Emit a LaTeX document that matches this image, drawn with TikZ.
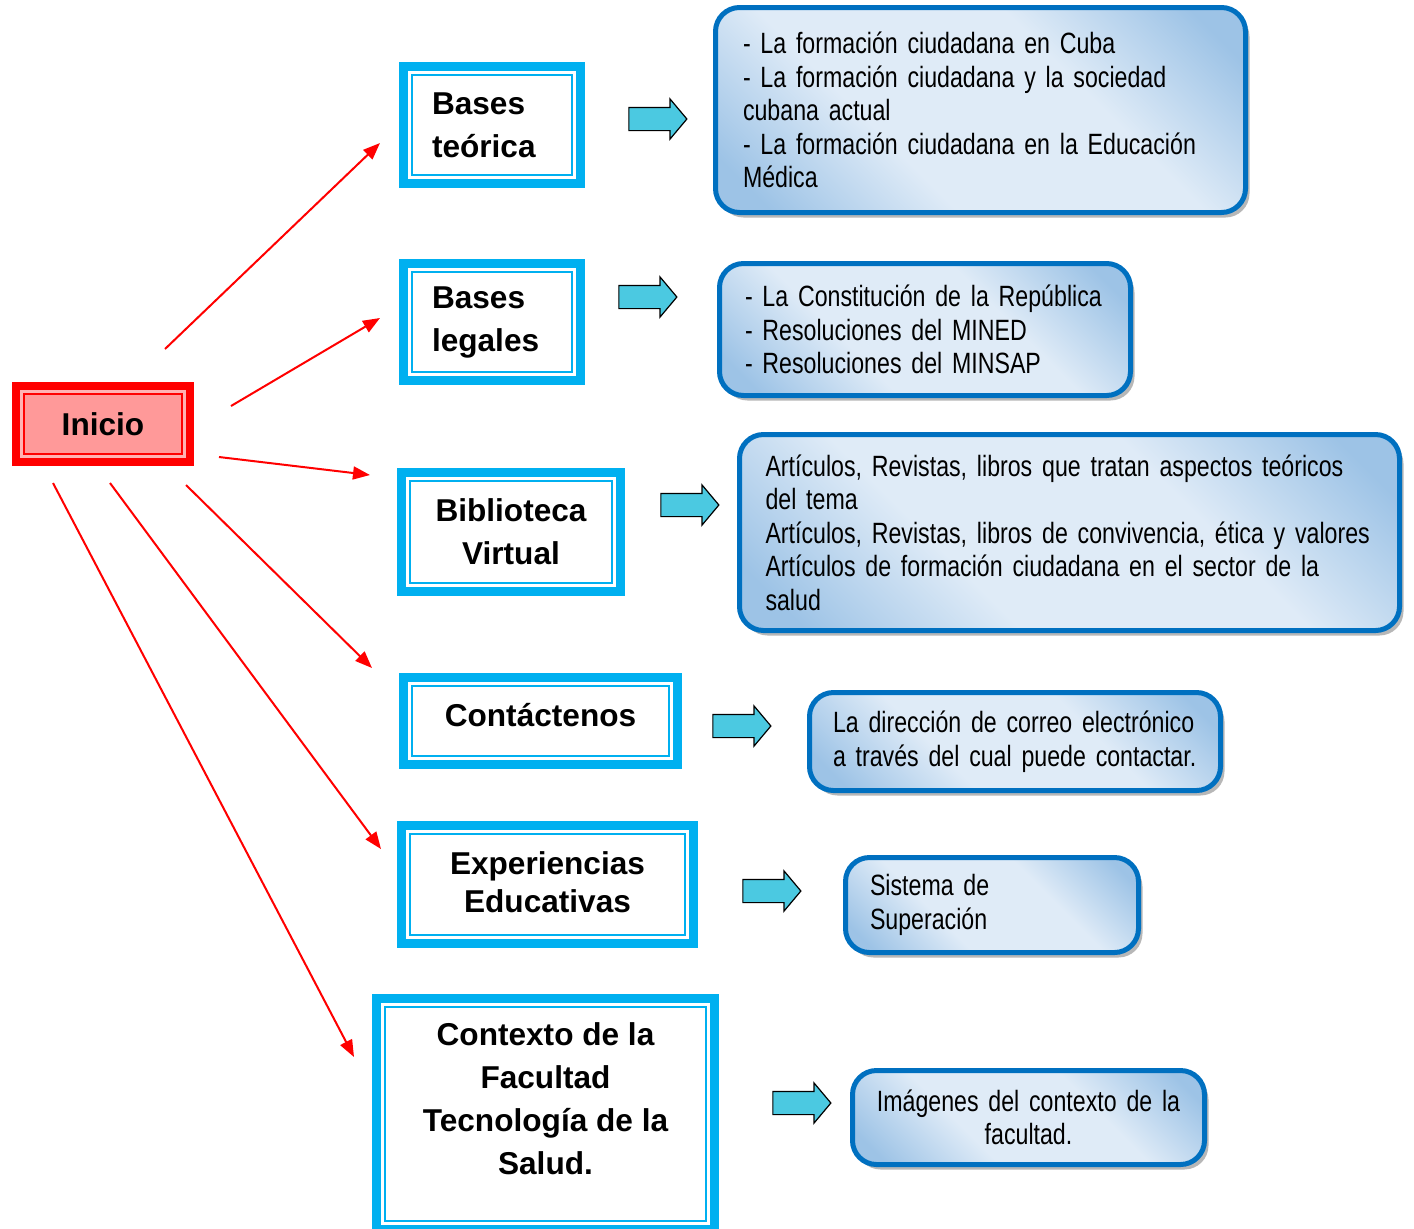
\documentclass[tikz,border=0pt]{standalone}
\usepackage{fontspec}
\setmainfont{Liberation Sans}
\newfontfamily\narrowfont[FakeStretch=0.79]{Liberation Sans}
\usetikzlibrary{positioning,arrows.meta,shapes.arrows,shadows}

\definecolor{boxcyan}{HTML}{00B0F0}
\definecolor{arrowcyan}{HTML}{4BC9E1}
\definecolor{infoblue}{HTML}{0070C0}
\definecolor{infodark}{HTML}{9DC3E6}
\definecolor{infolight}{HTML}{DFEBF7}
\definecolor{inipink}{HTML}{FF9999}

\pgfdeclareverticalshading{infoshade}{100bp}{color(0bp)=(infodark); color(20bp)=(infodark);
    color(38bp)=(infolight); color(62bp)=(infolight); color(80bp)=(infodark); color(100bp)=(infodark)}

\begin{document}
\begin{tikzpicture}[x=0.5pt, y=-0.5pt,
    ini node/.style={draw=red, line width=4pt, fill=inipink, inner sep=0pt,
        minimum width=87pt, minimum height=38pt,
        font=\bfseries\fontsize{15.8}{21.5}\selectfont,
        path picture={
            \draw[red!30, line width=1.5pt] ([shift={(2.7pt,2.7pt)}]path picture bounding box.south west) rectangle ([shift={(-2.7pt,-2.7pt)}]path picture bounding box.north east);
            \draw[red, line width=1.15pt] ([shift={(3.9pt,3.9pt)}]path picture bounding box.south west) rectangle ([shift={(-3.9pt,-3.9pt)}]path picture bounding box.north east);}},
    sec node/.style={draw=boxcyan, line width=4.5pt, fill=white, inner sep=0pt,
        font=\bfseries\fontsize{15.8}{21.5}\selectfont,
        path picture={
            \draw[boxcyan, line width=1.1pt] ([shift={(4.25pt,4.25pt)}]path picture bounding box.south west) rectangle ([shift={(-4.25pt,-4.25pt)}]path picture bounding box.north east);}},
    info node/.style={draw=infoblue, line width=2.5pt, rounded corners=12pt, inner sep=0pt,
        shading=infoshade, shading angle=-45,
        drop shadow={shadow xshift=2pt, shadow yshift=-2.5pt, fill=black!40, opacity=.7},
        font=\narrowfont\fontsize{14.67}{16.75}\selectfont, align=left},
    blk/.style={single arrow, draw=black, line width=0.6pt, fill=arrowcyan, inner sep=0pt,
        minimum height=29pt, text height=5.5pt, text depth=5.5pt,
        single arrow head extend=4.25pt, single arrow tip angle=100},
    lnk/.style={-{Triangle[length=8.5pt,width=6.5pt]}, red, line width=1pt}]

    \useasboundingbox (0,0) rectangle (1414,1228);

    \node[ini node] (ini) at (103,424) {Inicio};

    \node[sec node, minimum width=88.5pt, minimum height=58.5pt, text width=60pt, align=left] (bt) at (492,125) {Bases\\teórica};
    \node[sec node, minimum width=88.5pt, minimum height=58.5pt, text width=60pt, align=left] (bl) at (492,322) {Bases\\legales};
    \node[sec node, minimum width=109.5pt, minimum height=59.5pt, align=center] (bv) at (511,532) {Biblioteca\\Virtual};
    \node[sec node, minimum width=137pt, minimum height=43.5pt, text depth=6pt] (ct) at (540.5,721) {Contáctenos};
    \node[sec node, minimum width=146pt, minimum height=59pt, align=center,
        font=\bfseries\fontsize{15.8}{19}\selectfont] (ee) at (547.5,884.5) {Experiencias\\Educativas\\[-17pt]\mbox{}};
    \node[sec node, minimum width=169pt, minimum height=115.5pt, align=center] (cf) at (545.5,1114)
        {Contexto de la\\Facultad\\Tecnología de la\\Salud.\\[-6.5pt]\mbox{}};

    \node[info node, minimum width=265pt, minimum height=102.5pt, text width=237.5pt] (tb) at (980.5,110)
        {- La formación ciudadana en Cuba\\- La formación ciudadana y la sociedad\\cubana actual\\- La formación ciudadana en la Educación\\Médica};
    \node[info node, minimum width=205.5pt, minimum height=66pt, text width=180pt] (lb) at (925,329.5)
        {- La Constitución de la República\\- Resoluciones del MINED\\- Resoluciones del MINSAP};
    \node[info node, minimum width=330pt, minimum height=98pt, text width=304pt] (vb) at (1069.5,532.5)
        {Artículos, Revistas, libros que tratan aspectos teóricos\\del tema\\Artículos, Revistas, libros de convivencia, ética y valores\\Artículos de formación ciudadana en el sector de la\\salud};
    \node[info node, minimum width=205.5pt, minimum height=49pt, text width=182pt] (cb) at (1015,741.5)
        {La dirección de correo electrónico\\a través del cual puede contactar.};
    \node[info node, minimum width=146.5pt, minimum height=47.5pt, text width=122pt] (eb) at (992,905)
        {Sistema de\\Superación};
    \node[info node, minimum width=176pt, minimum height=47pt, text width=165pt, align=center] (fb) at (1028.5,1117.5)
        {Imágenes del contexto de la\\facultad.};

    % block arrows
    \node[blk] (b1) at (653,119) {};
    \node[blk] (b2) at (643,297) {};
    \node[blk] (b3) at (685,505) {};
    \node[blk] (b4) at (737,726) {};
    \node[blk] (b5) at (767,891) {};
    \node[blk] (b6) at (797,1103) {};

    % red links
    \coordinate (s1) at (165,349);  \coordinate (e1) at (380,143);
    \coordinate (s2) at (231,406);  \coordinate (e2) at (380,318);
    \coordinate (s3) at (219,457);  \coordinate (e3) at (370,475);
    \coordinate (s4) at (186,485);  \coordinate (e4) at (372,668);
    \coordinate (s5) at (110,483);  \coordinate (e5) at (381,849);
    \coordinate (s6) at (53,483);   \coordinate (e6) at (354,1057);

    \path[lnk]
        (s1) edge (e1)
        (s2) edge (e2)
        (s3) edge (e3)
        (s4) edge (e4)
        (s5) edge (e5)
        (s6) edge (e6);
\end{tikzpicture}
\end{document}
